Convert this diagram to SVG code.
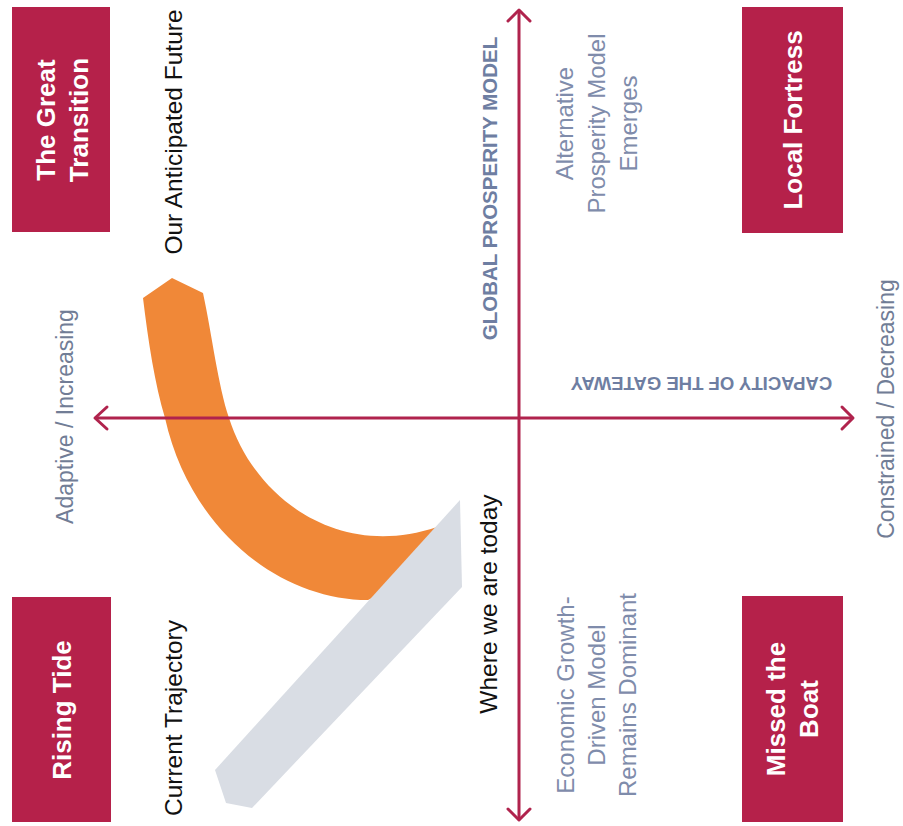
<svg xmlns="http://www.w3.org/2000/svg" width="903" height="826" viewBox="0 0 903 826">
<style>
.box{fill:#b5214a}
.bt{font-family:"Liberation Sans",Arial,sans-serif;font-weight:bold;font-size:26px;fill:#ffffff;text-anchor:middle}
.lbl{font-family:"Liberation Sans",Arial,sans-serif;font-size:24.5px;fill:#111111;text-anchor:middle}
.q{font-family:"Liberation Sans",Arial,sans-serif;font-size:24px;fill:#7f8cab;text-anchor:middle}
.ax{font-family:"Liberation Sans",Arial,sans-serif;font-weight:bold;fill:#6e7ea2;text-anchor:middle}
.end{font-family:"Liberation Sans",Arial,sans-serif;font-size:23px;fill:#717d96;text-anchor:middle}
.axis{stroke:#b0234d;stroke-width:3;fill:none;stroke-linecap:round;stroke-linejoin:round}
</style>
<rect width="903" height="826" fill="#ffffff"/>

<g id="trajectories">
<path id="anticipated" fill="#f08838" d="M143,298 L172,278 L203,293 C212,335 218,385 229,418 C255,500 340,560 437,527 L452,520 L440,565 L368,600 C280,600 190,530 165,418 C155,385 148,340 143,298 Z"/>
<path id="current" fill="#d9dde4" d="M460,500 L462,587 L252,808 L226,803 L215,770 Z"/>
</g>

<g id="connectors">
<line class="axis" x1="519" y1="11" x2="519" y2="819"/>
<polyline class="axis" points="508,21 519,10 530,21"/>
<polyline class="axis" points="508,809 519,820 530,809"/>
<line class="axis" x1="96" y1="418" x2="852" y2="418"/>
<polyline class="axis" points="107,407 95,418 107,429"/>
<polyline class="axis" points="842,407 853,418 842,429"/>
</g>

<g id="great-transition">
<rect class="box" x="12" y="7" width="98" height="225"/>
<text class="bt" transform="translate(55,120) rotate(-90)">The Great</text>
<text class="bt" transform="translate(88,120) rotate(-90)">Transition</text>
</g>
<g id="local-fortress">
<rect class="box" x="742" y="7" width="101" height="226"/>
<text class="bt" transform="translate(802,120) rotate(-90)">Local Fortress</text>
</g>
<g id="rising-tide">
<rect class="box" x="12" y="597" width="99" height="225"/>
<text class="bt" transform="translate(71,710) rotate(-90)">Rising Tide</text>
</g>
<g id="missed-the-boat">
<rect class="box" x="742" y="596" width="101" height="226"/>
<text class="bt" transform="translate(785,709) rotate(-90)">Missed the</text>
<text class="bt" transform="translate(818,709) rotate(-90)">Boat</text>
</g>

<g id="labels">
<text class="lbl" transform="translate(182,132) rotate(-90)">Our Anticipated Future</text>
<text class="lbl" transform="translate(182,718) rotate(-90)">Current Trajectory</text>
<text class="lbl" transform="translate(497,604) rotate(-90)">Where we are today</text>
</g>

<g id="axis-labels">
<text class="ax" font-size="20.5" transform="translate(497,188.5) rotate(-90)">GLOBAL PROSPERITY MODEL</text>
<text class="ax" font-size="18.5" transform="translate(701.5,377) rotate(180)">CAPACITY OF THE GATEWAY</text>
<text class="end" transform="translate(73,416.5) rotate(-90)">Adaptive / Increasing</text>
<text class="end" transform="translate(894,409) rotate(-90)">Constrained / Decreasing</text>
</g>

<g id="quadrant-top">
<text class="q" transform="translate(573,123.5) rotate(-90)">Alternative</text>
<text class="q" transform="translate(605,123.5) rotate(-90)">Prosperity Model</text>
<text class="q" transform="translate(637,123.5) rotate(-90)">Emerges</text>
</g>
<g id="quadrant-bottom">
<text class="q" transform="translate(574,695) rotate(-90)">Economic Growth-</text>
<text class="q" transform="translate(605,695) rotate(-90)">Driven Model</text>
<text class="q" transform="translate(636,695) rotate(-90)">Remains Dominant</text>
</g>
</svg>
